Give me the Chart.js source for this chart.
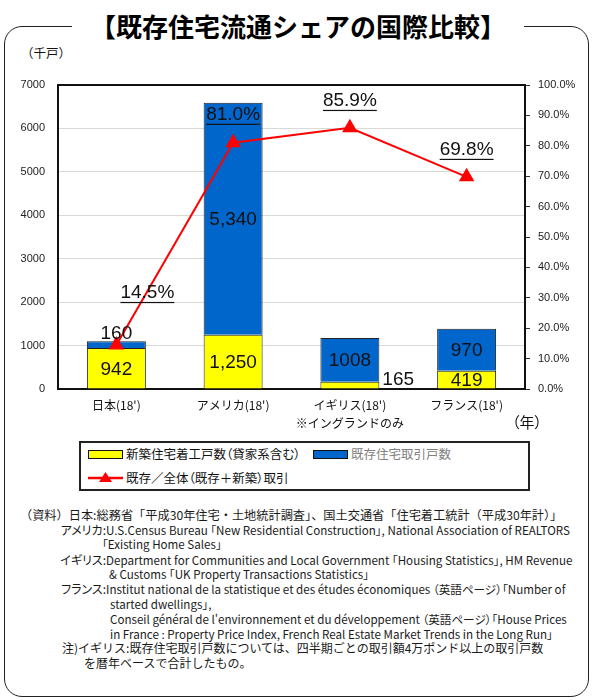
<!DOCTYPE html>
<html lang="ja">
<head>
<meta charset="UTF-8">
<meta name="viewport" content="width=device-width, initial-scale=1.0">
<title>既存住宅流通シェアの国際比較</title>
<script src="https://cdn.jsdelivr.net/npm/chart.js"></script>
<style>
    html, body { margin: 0; padding: 0; background: #fff; }
    #page {
        position: relative; width: 598px; height: 700px; overflow: hidden;
        font-family: 'Noto Sans CJK JP', sans-serif; color: #111;
    }
    #frame {
        position: absolute; left: 4px; top: 26px; width: 585px; height: 671px;
        box-sizing: border-box; border: 1.5px solid #222; border-radius: 18px;
    }
    #title {
        position: absolute; left: 72px; width: 452px; top: 7px; height: 38px;
        line-height: 38px; background: #fff; text-align: center;
        font-size: 26px; font-weight: bold; color: #000;
    }
    #chartBox { position: absolute; left: 0; top: 0; width: 598px; height: 440px; }
    .abs { position: absolute; white-space: nowrap; line-height: 16px; }
    .palt { font-feature-settings: "palt"; }
    #legend {
        position: absolute; left: 79px; top: 441px; width: 451px; height: 50px;
        box-sizing: border-box; border: 2px solid #222;
    }
    .sw { position: absolute; width: 35px; height: 9px; box-sizing: border-box; border: 1.5px solid #111; }
    .lg { position: absolute; font-size: 12.5px; line-height: 16px; white-space: nowrap; font-feature-settings: "palt"; }
    .note { position: absolute; font-size: 12px; line-height: 16px; white-space: nowrap; color: #1a1a1a; }
    .note.en { font-size: 11.6px; font-feature-settings: "palt"; }
    .note.r { text-align: right; font-feature-settings: "palt"; }
</style>
</head>
<body>
<div id="page">
    <div id="frame"></div>
    <div id="title">【既存住宅流通シェアの国際比較】</div>
    <div class="abs" style="left:21px; top:45px; font-size:12.5px;">（千戸）</div>
    <div id="chartBox"><canvas id="shareChart"></canvas></div>
    <div class="abs palt" style="left:512px; top:414px; font-size:15px;">（年）</div>

    <div id="legend"></div>
    <div class="sw" style="left:88px; top:450px; background:#ffff00;"></div>
    <div class="lg" style="left:126px; top:446px;">新築住宅着工戸数（貸家系含む）</div>
    <div class="sw" style="left:313px; top:450px; background:#0066cc;"></div>
    <div class="lg" style="left:351px; top:446px; color:#808080;">既存住宅取引戸数</div>
    <svg style="position:absolute; left:88px; top:470px;" width="36" height="16">
        <line x1="0" y1="8" x2="35" y2="8" stroke="#ff0000" stroke-width="2.5"/>
        <polygon points="17.5,2 24,12 11,12" fill="#ff0000"/>
    </svg>
    <div class="lg" style="left:126px; top:470px;">既存／全体（既存＋新築）取引</div>

    <div class="note" style="left:20px; top:507px; font-size:12.2px;">（資料）日本:総務省「平成30年住宅・土地統計調査」、国土交通省「住宅着工統計（平成30年計）」</div>
    <div class="note r" style="right:492px; top:522px;">アメリカ:</div>
    <div class="note en" style="left:106px; top:522px;">U.S.Census Bureau 「New Residential Construction」, National Association of REALTORS</div>
    <div class="note en" style="left:102px; top:536px;">「Existing Home Sales」</div>
    <div class="note r" style="right:492px; top:552px;">イギリス:</div>
    <div class="note en" style="left:106px; top:552px;">Department for Communities and Local Government 「Housing Statistics」, HM Revenue</div>
    <div class="note en" style="left:109px; top:566px;">&amp; Customs 「UK Property Transactions Statistics」</div>
    <div class="note r" style="right:492px; top:581px;">フランス:</div>
    <div class="note en" style="left:106px; top:581px;">Institut national de la statistique et des études économiques （英語ページ）「Number of</div>
    <div class="note en" style="left:110px; top:596px;">started dwellings」,</div>
    <div class="note en" style="left:110px; top:611px;">Conseil général de l'environnement et du développement （英語ページ）「House Prices</div>
    <div class="note en" style="left:110px; top:626px;">in France : Property Price Index, French Real Estate Market Trends in the Long Run」</div>
    <div class="note" style="left:62px; top:640px;">注)イギリス:既存住宅取引戸数については、四半期ごとの取引額4万ポンド以上の取引戸数</div>
    <div class="note" style="left:84px; top:655px;">を暦年ベースで合計したもの。</div>
</div>
<script>
    // chart values
    const countries = [
        ["日本(18')"],
        ["アメリカ(18')"],
        ["イギリス(18')", "※イングランドのみ"],
        ["フランス(18')"]
    ];
    const newStarts = [942, 1250, 165, 419];          // 新築住宅着工戸数 (千戸)
    const existingSales = [160, 5340, 1008, 970];     // 既存住宅取引戸数 (千戸)
    const existingShare = [14.5, 81.0, 85.9, 69.8];   // 既存／全体 (%)
    // label texts as printed on the original (1008 has no comma there)
    const newStartsText = ['942', '1,250', '165', '419'];
    const existingSalesText = ['160', '5,340', '1008', '970'];
    const leftMax = 7000, leftStep = 1000;
    const rightMax = 100, rightStep = 10;

    const numFont = '"Liberation Sans", Arial, sans-serif';

    // draws the black box round the plot area
    const plotFrame = {
        id: 'plotFrame',
        beforeDatasetsDraw(chart) {
            const a = chart.chartArea, ctx = chart.ctx;
            ctx.save();
            ctx.strokeStyle = '#111';
            ctx.lineWidth = 2;
            ctx.strokeRect(a.left, a.top, a.right - a.left, a.bottom - a.top);
            ctx.restore();
        }
    };

    // value labels on the bars and the share labels over the line
    const valueLabels = {
        id: 'valueLabels',
        afterDatasetsDraw(chart, args, opts) {
            const ctx = chart.ctx;
            const texts = [newStartsText, existingSalesText];
            ctx.save();
            ctx.fillStyle = '#111';
            ctx.font = '19px ' + numFont;
            ctx.textBaseline = 'middle';

            [0, 1].forEach(di => {
                const meta = chart.getDatasetMeta(di);
                meta.data.forEach((bar, i) => {
                    const text = texts[di][i];
                    const h = Math.abs(bar.base - bar.y);
                    if (h < 12 && di === 1) {
                        // thin top segment: label sits on top of the bar
                        ctx.textAlign = 'center';
                        ctx.fillText(text, bar.x, bar.y - 7);
                    } else if (h < 12) {
                        // thin bottom segment: label goes to the right
                        ctx.textAlign = 'left';
                        ctx.fillText(text, bar.x + bar.width / 2 + 3, bar.y - 2);
                    } else {
                        ctx.textAlign = 'center';
                        ctx.fillText(text, bar.x, (bar.y + bar.base) / 2 + 1);
                    }
                });
            });

            const lineMeta = chart.getDatasetMeta(2);
            lineMeta.data.forEach((pt, i) => {
                const off = opts.shareOffsets[i];
                const text = existingShare[i].toFixed(1) + '%';
                const x = pt.x + off[0], y = pt.y + off[1];
                ctx.textAlign = 'center';
                ctx.fillText(text, x, y);
                const w = ctx.measureText(text).width;
                ctx.fillRect(x - w / 2, y + 9, w, 1.2);
            });
            ctx.restore();
        }
    };

    const ctx = document.getElementById('shareChart').getContext('2d');
    new Chart(ctx, {
        type: 'bar',
        data: {
            labels: countries,
            datasets: [
                {
                    label: '新築住宅着工戸数（貸家系含む）',
                    data: newStarts,
                    backgroundColor: '#ffff00',
                    borderColor: '#222',
                    borderWidth: 1,
                    yAxisID: 'y',
                    order: 1
                },
                {
                    label: '既存住宅取引戸数',
                    data: existingSales,
                    backgroundColor: '#0066cc',
                    borderColor: '#222',
                    borderWidth: 1,
                    yAxisID: 'y',
                    order: 1
                },
                {
                    type: 'line',
                    label: '既存／全体（既存＋新築）取引',
                    data: existingShare,
                    borderColor: '#ff0000',
                    backgroundColor: '#ff0000',
                    borderWidth: 2,
                    pointStyle: 'triangle',
                    pointRadius: 9,
                    pointBorderWidth: 0,
                    tension: 0,
                    yAxisID: 'y1',
                    order: 0
                }
            ]
        },
        options: {
            responsive: true,
            maintainAspectRatio: false,
            animation: false,
            layout: { padding: { top: 85, bottom: 0, left: 0, right: 0 } },
            datasets: {
                bar: { categoryPercentage: 1.0, barPercentage: 0.505 }
            },
            scales: {
                x: {
                    stacked: true,
                    grid: { display: false, drawTicks: false },
                    border: { display: false },
                    ticks: {
                        color: '#111',
                        padding: 7,
                        maxRotation: 0,
                        font: { family: "'Noto Sans CJK JP', sans-serif", size: 12, lineHeight: 1.5 }
                    },
                    afterFit(scale) { scale.height = 51; }
                },
                y: {
                    stacked: true,
                    min: 0,
                    max: leftMax,
                    grid: { color: '#d9d9d9', lineWidth: 1, drawTicks: false },
                    border: { display: false },
                    ticks: {
                        stepSize: leftStep,
                        color: '#222',
                        padding: 13,
                        font: { family: numFont, size: 11 },
                        callback: v => String(v)
                    },
                    afterFit(scale) { scale.width = 58; }
                },
                y1: {
                    position: 'right',
                    min: 0,
                    max: rightMax,
                    grid: { drawOnChartArea: false, drawTicks: true, tickLength: 5, tickColor: '#333' },
                    border: { display: false },
                    ticks: {
                        stepSize: rightStep,
                        color: '#222',
                        padding: 8,
                        font: { family: numFont, size: 11 },
                        callback: v => v.toFixed(1) + '%'
                    },
                    afterFit(scale) { scale.width = 73; }
                }
            },
            plugins: {
                legend: { display: false },
                tooltip: { enabled: false },
                valueLabels: {
                    shareOffsets: [[31, -52], [0, -28], [0, -27], [0, -27]]
                }
            }
        },
        plugins: [plotFrame, valueLabels]
    });
</script>
</body>
</html>
